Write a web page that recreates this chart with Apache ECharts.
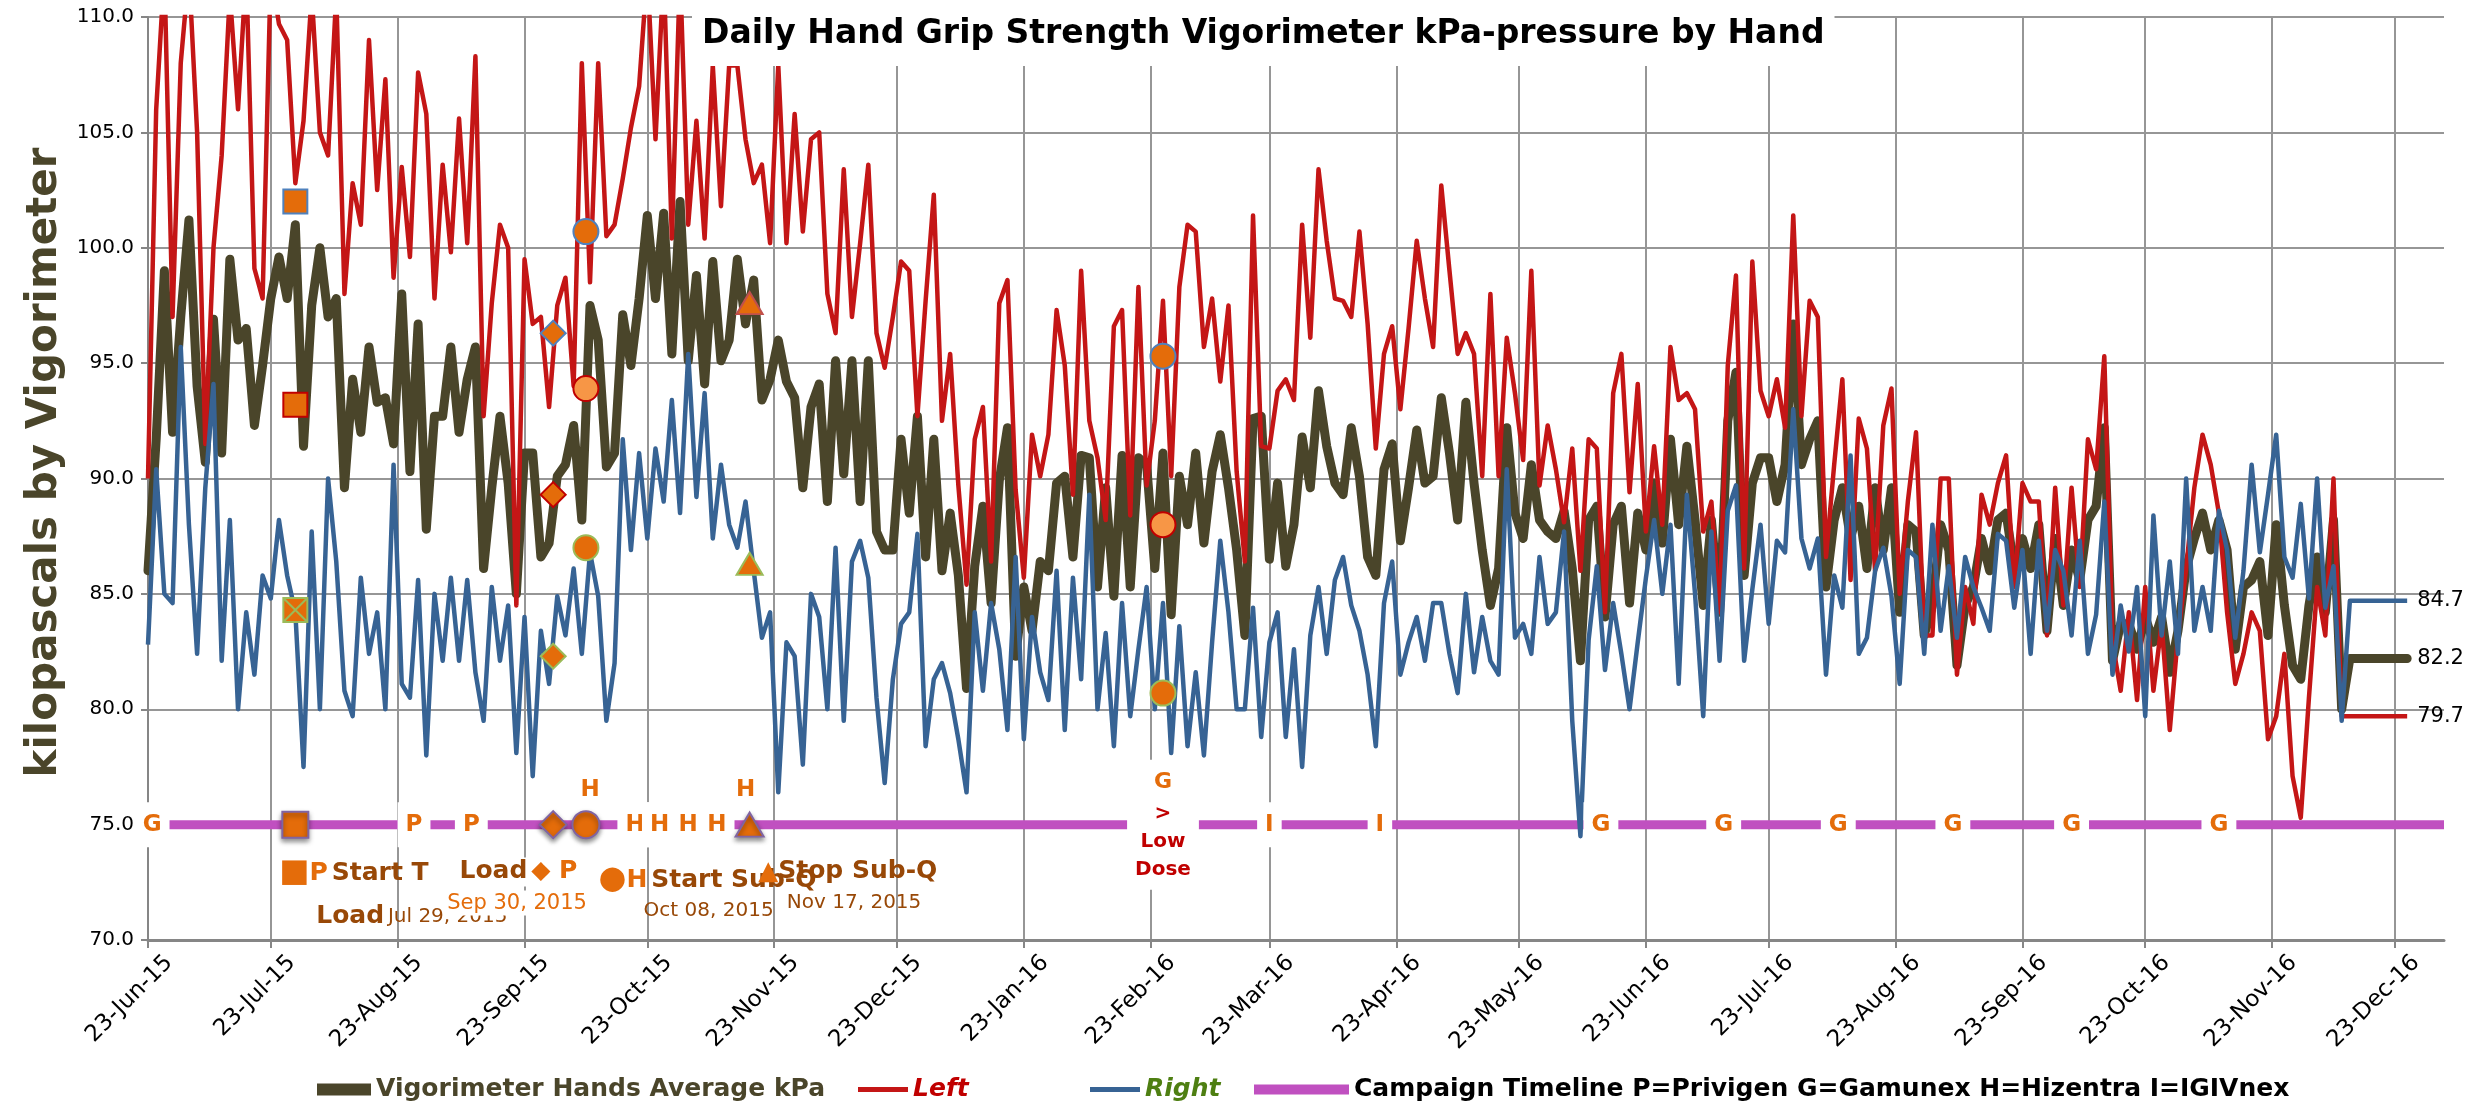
<!DOCTYPE html>
<html>
<head>
<meta charset="utf-8">
<script src="https://cdn.jsdelivr.net/npm/echarts@6/dist/echarts.min.js"></script>
<style>
html, body { margin: 0; padding: 0; background: #fff; }
#chart { width: 2473px; height: 1110px; }
</style>
</head>
<body>
<div id="chart"></div>
<script>
// days since 23-Jun-15, one reading kept every STEP days
const DAY_COUNT = 562;
const STEP = 2;
const MON = ['Jan','Feb','Mar','Apr','May','Jun','Jul','Aug','Sep','Oct','Nov','Dec'];

const avgVals = [
  86, 91.7, 99, 92, 97, 101.2, 94, 90.7, 96.9, 91.1,
  99.5, 96, 96.5, 92.3, 94.9, 97.8, 99.6, 97.8, 101, 91.4,
  97.5, 100, 97, 97.8, 89.6, 94.3, 92, 95.7, 93.3, 93.5,
  91.5, 98, 90.3, 96.7, 87.8, 92.7, 92.7, 95.7, 92, 94.3,
  95.7, 86.1, 89.6, 92.7, 89.8, 85, 91.1, 91.1, 86.6, 87.2,
  90.1, 90.6, 92.3, 88.2, 97.5, 96, 90.5, 91.1, 97.1, 94.9,
  97.8, 101.4, 97.8, 101.5, 95.4, 102, 95.1, 98.8, 94.1, 99.4,
  95.1, 96, 99.5, 96.7, 98.6, 93.4, 94.3, 96, 94.2, 93.5,
  89.6, 93.1, 94.1, 89, 95.1, 90.2, 95.1, 89, 95.1, 87.7,
  86.9, 86.9, 91.7, 88.5, 92.7, 86.6, 91.7, 86, 88.5, 85.8,
  80.9, 86.2, 88.8, 84.6, 89.9, 92.2, 82.3, 85.3, 83.4, 86.4,
  86, 89.8, 90.1, 86.6, 91, 90.9, 85.3, 89.6, 84.9, 91,
  85.3, 90.9, 90.6, 86.1, 91.1, 84.1, 90.1, 88, 91.1, 87.2,
  90.3, 91.9, 89.6, 86.9, 83.2, 92.6, 92.7, 86.5, 89.8, 86.2,
  88, 91.8, 89.6, 93.8, 91.4, 89.8, 89.3, 92.2, 90.1, 86.6,
  85.8, 90.4, 91.5, 87.3, 89.6, 92.1, 89.8, 90.1, 93.5, 91.1,
  88.2, 93.3, 89.8, 86.9, 84.5, 86.1, 92.2, 88.5, 87.4, 90.6,
  88.2, 87.7, 87.4, 88.6, 86.1, 82.1, 88.2, 88.8, 84, 88,
  88.8, 84.6, 88.5, 86.9, 89.8, 87.2, 91.7, 88, 91.4, 88.2,
  84.5, 88.2, 84.2, 92.5, 94.6, 85.8, 89.8, 90.9, 90.9, 89,
  90.6, 96.7, 90.6, 91.7, 92.5, 85.3, 88.2, 89.6, 87.4, 88.8,
  86.1, 89.6, 86.9, 89.6, 84.2, 88, 87.7, 83.2, 84.5, 88,
  86.9, 81.9, 84.5, 85.3, 87.4, 86, 88.2, 88.5, 86.1, 87.4,
  86.1, 88, 83.4, 87.4, 84.5, 86.9, 85.6, 88.2, 88.8, 92.2,
  82.1, 83.7, 83.7, 82.6, 84, 82.9, 84, 81.6, 83.4, 86.1,
  87.4, 88.5, 86.9, 88.2, 86.9, 82.6, 85.3, 85.6, 86.4, 83.2,
  88, 84.5, 81.9, 81.3, 84.5, 86.6, 84.2, 88.2, 80, 82.2,
  82.2, 82.2, 82.2, 82.2, 82.2, 82.2, 82.2
];

const leftVals = [
  90, 106, 112, 97, 108, 112, 105, 91.5, 100, 104,
  111, 106, 112, 99.1, 97.8, 112, 109.7, 109, 102.8, 105.5,
  111, 105, 104, 111, 98, 102.8, 101, 109, 102.5, 107.3,
  98.7, 103.5, 99.6, 107.6, 105.8, 97.8, 103.6, 99.8, 105.6, 100.2,
  108.3, 92.7, 97.6, 101, 100, 84.5, 99.5, 96.7, 97, 93.1,
  97.5, 98.7, 94, 108, 98.5, 108, 100.5, 101, 103, 105.2,
  107, 112, 104.7, 112, 100.4, 112, 101, 105.5, 100.4, 107.9,
  101.8, 107.9, 107.9, 104.7, 102.8, 103.6, 100.2, 107.9, 100.2, 105.8,
  100.7, 104.7, 105, 98, 96.3, 103.4, 97, 100.2, 103.6, 96.3,
  94.8, 97, 99.4, 99, 92.7, 97.7, 102.3, 92.5, 95.4, 89.7,
  85.4, 91.7, 93.1, 86.4, 97.6, 98.6, 89.5, 85.7, 91.9, 90.1,
  91.9, 97.3, 94.9, 89.3, 99, 92.5, 90.9, 88.2, 96.6, 97.3,
  88.4, 98.3, 89.7, 92.5, 97.7, 90.1, 98.3, 101, 100.7, 95.7,
  97.8, 94.2, 97.5, 90.3, 86.4, 101.4, 91.4, 91.3, 93.8, 94.3,
  93.4, 101, 96.1, 103.4, 100.3, 97.8, 97.7, 97, 100.7, 96.7,
  91.3, 95.4, 96.6, 93, 96.5, 100.3, 97.8, 95.7, 102.7, 99,
  95.4, 96.3, 95.4, 90.1, 98, 90.1, 96.1, 93.7, 90.8, 99,
  89.7, 92.3, 90.4, 88.1, 91.3, 86, 91.7, 91.3, 84.2, 93.7,
  95.4, 89.4, 94.1, 87.7, 91.4, 88, 95.7, 93.4, 93.7, 93,
  87.7, 89, 84.2, 94.9, 98.8, 86.1, 99.4, 93.8, 92.7, 94.3,
  92.2, 101.4, 92.7, 97.7, 97, 86.6, 90.6, 94.3, 85.6, 92.6,
  91.3, 86, 92.3, 93.9, 85, 89, 92, 83.2, 83.2, 90,
  90, 81.5, 85.3, 83.7, 89.3, 88, 89.8, 91, 85.3, 89.8,
  89, 89, 83.2, 89.6, 84.5, 89.6, 85.3, 91.7, 90.4, 95.3,
  82.9, 80.8, 84.2, 80.4, 85.3, 80.8, 83.7, 79.1, 83.2, 86.1,
  89.6, 91.9, 90.6, 88.5, 84.2, 81.1, 82.4, 84.2, 83.4, 78.7,
  79.7, 82.4, 77.1, 75.3, 80.5, 85.3, 83.2, 90, 79.7, 79.7,
  79.7, 79.7, 79.7, 79.7, 79.7, 79.7, 79.7
];

const rightVals = [
  82.8, 90.4, 85, 84.6, 95.7, 88, 82.4, 89.6, 94.1, 82.1,
  88.2, 80, 84.2, 81.5, 85.8, 84.8, 88.2, 85.8, 84.2, 77.5,
  87.7, 80, 90, 86.4, 80.8, 79.7, 85.7, 82.4, 84.2, 80,
  90.6, 81.1, 80.5, 85.6, 78, 85, 82.1, 85.7, 82.1, 85.6,
  81.6, 79.5, 85.3, 82.1, 84.5, 78.1, 84, 77.1, 83.4, 81.1,
  84.9, 83.2, 86.1, 82.4, 86.8, 84.9, 79.5, 82, 91.7, 86.9,
  91.1, 87.4, 91.3, 89, 93.4, 88.5, 95.4, 89.2, 93.7, 87.4,
  90.6, 88, 87, 89, 86, 83.1, 84.2, 76.4, 82.9, 82.3,
  77.6, 85, 84, 80, 87, 79.5, 86.4, 87.3, 85.7, 80.5,
  76.8, 81.3, 83.7, 84.2, 87.6, 78.4, 81.3, 82, 80.7, 78.7,
  76.4, 84.2, 80.8, 84.6, 82.6, 79.1, 86.6, 78.7, 84, 81.6,
  80.4, 86, 79.1, 85.7, 81.3, 89.3, 80, 83.3, 78.4, 84.6,
  79.7, 82.6, 85.3, 80, 84.6, 78.1, 83.6, 78.4, 81.6, 78,
  82.9, 87.3, 84.2, 80, 80, 84.4, 78.8, 82.9, 84.2, 78.8,
  82.6, 77.5, 83.2, 85.3, 82.4, 85.6, 86.6, 84.5, 83.4, 81.5,
  78.4, 84.6, 86.4, 81.5, 82.9, 84, 82.1, 84.6, 84.6, 82.4,
  80.7, 85, 81.6, 84, 82.1, 81.5, 90.4, 83.1, 83.7, 82.4,
  86.6, 83.7, 84.2, 87.7, 79.5, 74.5, 83, 86.2, 81.7, 84.6,
  82.4, 80, 82.9, 85.7, 88.2, 85, 88, 81.1, 89.3, 85,
  79.7, 87.7, 82.1, 88.6, 89.7, 82.1, 85.2, 88, 83.7, 87.3,
  86.8, 93, 87.4, 86.1, 87.4, 81.5, 85.8, 84.4, 91, 82.4,
  83.1, 86, 87, 84.9, 81.1, 86.9, 86.6, 82.4, 88, 83.4,
  86.2, 83.1, 86.6, 85.3, 84.4, 83.4, 87.6, 87.3, 84.4, 86.9,
  82.4, 87.3, 83.4, 86.9, 86, 83.2, 87.3, 82.4, 84.1, 89,
  81.5, 84.5, 82.5, 85.3, 79.7, 88.4, 83.2, 86.4, 82.4, 90,
  83.4, 85.3, 83.4, 88.6, 86.9, 83.1, 86, 90.6, 86.8, 89.3,
  91.9, 86.6, 85.7, 88.9, 84.8, 90, 84.4, 86.2, 79.5, 84.7,
  84.7, 84.7, 84.7, 84.7, 84.7, 84.7, 84.7
];

// campaign timeline
const timelineLevel = 75;
const timelineDays = [0, 561];
const letterDays = [1, 65, 79, 119, 125, 132, 139, 274, 301, 355, 385, 413, 441, 470, 506];
const letterText = ['G','P','P','H','H','H','H','I','I','G','G','G','G','G','G'];
const upperHDays = [108, 146];
const upperHLevel = 76.5;
const lowDoseDay = 248;

// event markers (day index, then value on each line)
const eventDays = [36, 99, 107, 147, 248];
const eventSymbols = ['rect', 'diamond', 'circle', 'triangle', 'circle'];
const eventLeft = [102.0, 96.3, 100.7, null, 95.3];
const eventAvg = [93.2, 89.3, 93.9, 97.6, 88.0];
const eventRight = [84.3, 82.3, 87.0, 86.3, 80.7];
const eventTimeline = [75, 75, 75, 75, null];

// notes under the timeline
const noteDays = [31, 40, 75, 72, 109, 120, 148, 155];
const noteLevels = [72.9, 71.0, 72.95, 71.6, 72.6, 71.25, 72.95, 71.6];
const noteTexts = [
  '{big|■}{o|P} {b|Start T}',
  '{b|Load} {d|Jul 29, 2015}',
  '{b|Load} {o|◆ P}',
  '{od|Sep 30, 2015}',
  '{big|●}{o|H} {b|Start Sub-Q}',
  '{d|Oct 08, 2015}',
  '{tri|▲}{b|Stop Sub-Q}',
  '{d|Nov 17, 2015}'
];
const noteBoxed = [false, false, true, true, false, false, false, false];

const AVG_NAME = 'Vigorimeter Hands Average kPa';
const LEFT_NAME = 'Left';
const RIGHT_NAME = 'Right';
const TL_NAME = 'Campaign Timeline P=Privigen G=Gamunex H=Hizentra I=IGIVnex';

const FONT = 'DejaVu Sans';
const ORANGE = '#e46c0a';
const BROWN = '#984807';

const days = [];
for (let i = 0; i < DAY_COUNT; i++) {
  const d = new Date(Date.UTC(2015, 5, 23 + i));
  days.push(d.getUTCDate() + '-' + MON[d.getUTCMonth()] + '-' + String(d.getUTCFullYear()).slice(2));
}
const isTick = (i, v) => v.startsWith('23-');
const toPairs = vals => vals.map((v, i) => [i * STEP, v]);

const chart = echarts.init(document.getElementById('chart'));

function endLabel() {
  return {
    show: true, distance: 10, fontSize: 21, color: '#000', fontFamily: FONT,
    formatter: p => p.value[1].toFixed(1)
  };
}

function markers(vals, fill, border, sizeBoost, specials) {
  const data = [];
  vals.forEach((v, i) => {
    if (v == null) return;
    const item = { value: [eventDays[i], v], symbol: eventSymbols[i] };
    const s = eventSymbols[i];
    item.symbolSize = s === 'rect' ? 24 + sizeBoost : s === 'triangle' ? [26 + sizeBoost, 22 + sizeBoost] : 25 + sizeBoost;
    if (specials && specials[i]) Object.assign(item, specials[i]);
    data.push(item);
  });
  return {
    type: 'scatter', data: data, z: 6,
    itemStyle: { color: fill, borderColor: border, borderWidth: 2, opacity: 1 }
  };
}

const lightCircle = { itemStyle: { color: '#f79646', borderColor: '#c00000', borderWidth: 2, opacity: 1 } };
const timelineMarkers = markers(eventTimeline, ORANGE, '#8064a2', 2);
timelineMarkers.itemStyle.shadowBlur = 5;
timelineMarkers.itemStyle.shadowColor = 'rgba(0,0,0,0.45)';
timelineMarkers.itemStyle.shadowOffsetY = 3;

const hidden = { color: 'rgba(0,0,0,0)', opacity: 1 };

chart.setOption({
  animation: false,
  textStyle: { fontFamily: FONT },
  title: {
    text: 'Daily Hand Grip Strength Vigorimeter kPa-pressure by Hand',
    left: 692, top: 0,
    padding: [14, 10, 12, 10],
    backgroundColor: '#fff',
    textStyle: { fontFamily: FONT, fontSize: 33, fontWeight: 'bold', color: '#000', lineHeight: 40 }
  },
  grid: { left: 148, right: 29, top: 17, bottom: 170 },
  legend: [
    { data: [{ name: AVG_NAME, icon: 'rect' }], left: 312, top: 1072, itemWidth: 54, itemHeight: 12,
      textStyle: { fontSize: 25, fontWeight: 'bold', color: '#4a452a', fontFamily: FONT } },
    { data: [{ name: LEFT_NAME, icon: 'rect' }], left: 853, top: 1072, itemWidth: 50, itemHeight: 5,
      textStyle: { fontSize: 25, fontWeight: 'bold', fontStyle: 'italic', color: '#c00000', fontFamily: FONT } },
    { data: [{ name: RIGHT_NAME, icon: 'rect' }], left: 1085, top: 1072, itemWidth: 50, itemHeight: 5,
      textStyle: { fontSize: 25, fontWeight: 'bold', fontStyle: 'italic', color: '#4e7f12', fontFamily: FONT } },
    { data: [{ name: TL_NAME, icon: 'rect' }], left: 1249, top: 1072, itemWidth: 95, itemHeight: 10,
      textStyle: { fontSize: 25, fontWeight: 'bold', color: '#000', fontFamily: FONT } }
  ],
  xAxis: {
    type: 'category', data: days, boundaryGap: false,
    axisLine: { lineStyle: { color: '#868686', width: 3 } },
    axisTick: { show: true, interval: isTick, length: 8, lineStyle: { color: '#868686', width: 2 } },
    axisLabel: { interval: isTick, rotate: 45, fontSize: 23, color: '#000', margin: -2,
      verticalAlign: 'top', lineHeight: 60, fontFamily: FONT },
    splitLine: { show: true, interval: isTick, lineStyle: { color: '#969696', width: 2 } }
  },
  yAxis: {
    type: 'value', min: 70, max: 110, interval: 5,
    name: 'kilopascals by Vigorimeter', nameLocation: 'middle', nameGap: 82,
    nameTextStyle: { fontSize: 42, fontWeight: 'bold', color: '#4a452a', fontFamily: FONT, padding: [0, 0, 0, 32] },
    axisLine: { show: true, lineStyle: { color: '#868686', width: 2 } },
    axisTick: { show: true, length: 7, lineStyle: { color: '#868686', width: 2 } },
    axisLabel: { formatter: v => v.toFixed(1), fontSize: 20, color: '#000', margin: 14, fontFamily: FONT },
    splitLine: { lineStyle: { color: '#969696', width: 2 } }
  },
  series: [
    { name: TL_NAME, type: 'line', data: timelineDays.map(d => [d, timelineLevel]), showSymbol: false,
      lineStyle: { color: '#c050c0', width: 9 }, itemStyle: { color: '#c050c0' }, z: 2 },
    { name: AVG_NAME, type: 'line', data: toPairs(avgVals), showSymbol: false,
      lineStyle: { color: '#4a452a', width: 9, join: 'round', cap: 'round' }, itemStyle: { color: '#4a452a' },
      endLabel: endLabel(), z: 3 },
    { name: LEFT_NAME, type: 'line', data: toPairs(leftVals), showSymbol: false,
      lineStyle: { color: '#c41616', width: 4.5, join: 'round' }, itemStyle: { color: '#c41616' },
      endLabel: endLabel(), z: 3 },
    { name: RIGHT_NAME, type: 'line', data: toPairs(rightVals), showSymbol: false,
      lineStyle: { color: '#376394', width: 4.5, join: 'round' }, itemStyle: { color: '#376394' },
      endLabel: endLabel(), z: 3 },
    markers(eventLeft, ORANGE, '#4f81bd', 0),
    markers(eventAvg, ORANGE, '#c00000', 0, { 2: lightCircle, 3: { itemStyle: { color: ORANGE, borderColor: '#c0504d', borderWidth: 2, opacity: 1 } }, 4: lightCircle }),
    markers(eventRight, ORANGE, '#9bbb59', 0, { 0: { symbol: 'path://M0,0L20,0L20,20L0,20Z M0,0L20,20 M20,0L0,20' } }),
    timelineMarkers,
    { type: 'scatter', symbolSize: 1, z: 5,
      data: letterDays.map((d, i) => ({ value: [d, timelineLevel], name: letterText[i] })),
      itemStyle: hidden,
      label: { show: true, position: 'inside', formatter: '{b}', fontSize: 23, fontWeight: 'bold',
        color: ORANGE, backgroundColor: '#fff', padding: [11, 8], fontFamily: FONT } },
    { type: 'scatter', symbolSize: 1, z: 5,
      data: upperHDays.map(d => ({ value: [d, upperHLevel], name: 'H' })),
      itemStyle: hidden,
      label: { show: true, position: 'inside', formatter: '{b}', fontSize: 23, fontWeight: 'bold',
        color: ORANGE, fontFamily: FONT } },
    { type: 'scatter', symbolSize: 1, z: 5,
      data: [{ value: [lowDoseDay, timelineLevel] }],
      itemStyle: hidden,
      label: { show: true, position: 'inside', backgroundColor: '#fff', padding: [6, 8],
        formatter: '{g|G}\n{r|>}\n{r|Low}\n{r|Dose}',
        rich: {
          g: { color: ORANGE, fontSize: 22, fontWeight: 'bold', lineHeight: 34, fontFamily: FONT, align: 'center' },
          r: { color: '#c00000', fontSize: 20, fontWeight: 'bold', lineHeight: 28, fontFamily: FONT, align: 'center' }
        } } },
    { type: 'scatter', symbolSize: 1, z: 7,
      data: noteDays.map((d, i) => ({
        value: [d, noteLevels[i]],
        label: { formatter: noteTexts[i], backgroundColor: noteBoxed[i] ? '#fff' : 'transparent' }
      })),
      itemStyle: hidden,
      label: { show: true, position: 'right', distance: 0, padding: [2, 4],
        rich: {
          big: { color: ORANGE, fontSize: 32, fontFamily: FONT },
          tri: { color: ORANGE, fontSize: 26, fontFamily: FONT, verticalAlign: 'top' },
          o: { color: ORANGE, fontSize: 25, fontWeight: 'bold', fontFamily: FONT },
          b: { color: BROWN, fontSize: 25, fontWeight: 'bold', fontFamily: FONT },
          d: { color: BROWN, fontSize: 20, fontFamily: FONT },
          od: { color: ORANGE, fontSize: 21, fontFamily: FONT }
        } } }
  ]
});
</script>
</body>
</html>
